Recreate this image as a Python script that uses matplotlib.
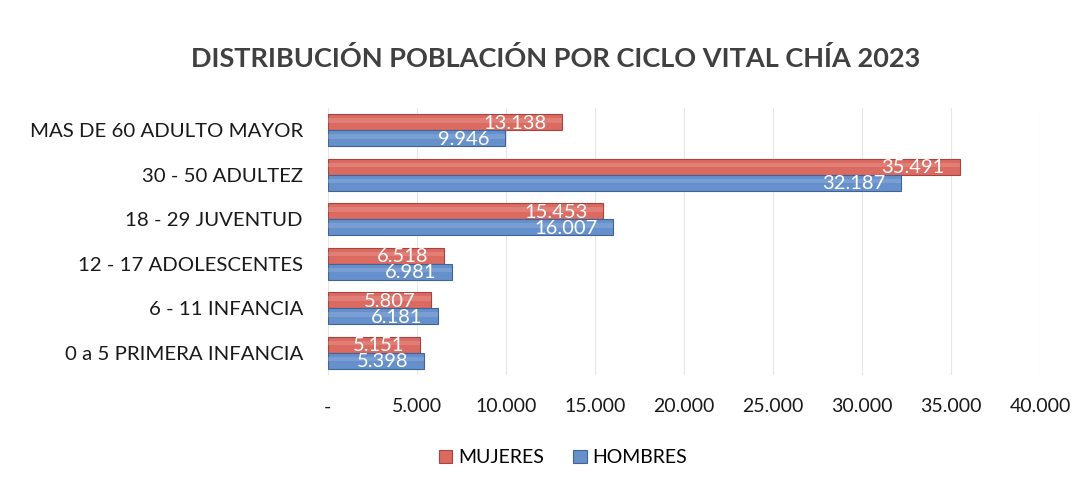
import matplotlib
matplotlib.use("Agg")
import matplotlib.pyplot as plt
import numpy as np
from matplotlib.ticker import FuncFormatter

categories = ["MAS DE 60 ADULTO MAYOR", "30 - 50 ADULTEZ", "18 - 29 JUVENTUD",
              "12 - 17 ADOLESCENTES", "6 - 11 INFANCIA", "0 a 5 PRIMERA INFANCIA"]
mujeres = [13138, 35491, 15453, 6518, 5807, 5151]
hombres = [9946, 32187, 16007, 6981, 6181, 5398]
xticks = [0, 5000, 10000, 15000, 20000, 25000, 30000, 35000, 40000]

plt.rcParams['font.family'] = ['Lato', 'DejaVu Sans']

fig = plt.figure(figsize=(10.89, 4.88), dpi=100)
ax = fig.add_axes([0.301, 0.232, 0.654, 0.547])

red = "#DB6A61"
blue = "#6590CC"
y = np.arange(len(categories))
h = 0.36
off = 0.18

b1 = ax.barh(y - off, mujeres, height=h, color=red, edgecolor="#A8443D", linewidth=0.8, label="MUJERES", zorder=3)
b2 = ax.barh(y + off, hombres, height=h, color=blue, edgecolor="#3F6497", linewidth=0.8, label="HOMBRES", zorder=3)

# soft cylinder-like highlight
for bars, hl in ((b1, "#EFA59F"), (b2, "#9DBBE5")):
    for r in bars:
        ax.barh(r.get_y() + r.get_height() * 0.40, r.get_width(), height=r.get_height() * 0.30,
                left=0, color=hl, alpha=0.35, linewidth=0, zorder=4)

def fmt(v):
    return f"{v:,.0f}".replace(",", ".")

for bars, vals in ((b1, mujeres), (b2, hombres)):
    for r, v in zip(bars, vals):
        ax.annotate(fmt(v), (v, r.get_y() + r.get_height() / 2), xytext=(-11, -1),
                    textcoords="offset points", ha="right", va="center",
                    color="white", fontsize=14.5, zorder=5)

ax.set_xlim(0, 40000)
ax.set_ylim(len(categories) - 0.5, -0.5)
ax.set_yticks(y)
ax.set_yticklabels(categories, fontsize=14.7, color="#1a1a1a")
ax.set_xticks(xticks)
ax.xaxis.set_major_formatter(FuncFormatter(lambda v, p: "-" if v == 0 else fmt(v)))
ax.tick_params(axis="x", labelsize=14, length=0, pad=17, colors="#1a1a1a")
ax.tick_params(axis="y", length=0, pad=18)
ax.grid(axis="x", color="#e6e6e6", linewidth=0.8, zorder=0)
for s in ax.spines.values():
    s.set_visible(False)

fig.suptitle("DISTRIBUCIÓN POBLACIÓN POR CICLO VITAL CHÍA 2023", x=0.51, y=0.905,
             fontsize=19.5, fontweight="bold", color="#404040")

fig.legend(handles=[b1, b2], labels=["MUJERES", "HOMBRES"], loc="center",
           bbox_to_anchor=(0.517, 0.062), ncol=2, frameon=False, fontsize=14,
           handlelength=0.7, handleheight=0.7, handletextpad=0.3, columnspacing=1.5)

fig.savefig("out.png", dpi=100, facecolor="white")
